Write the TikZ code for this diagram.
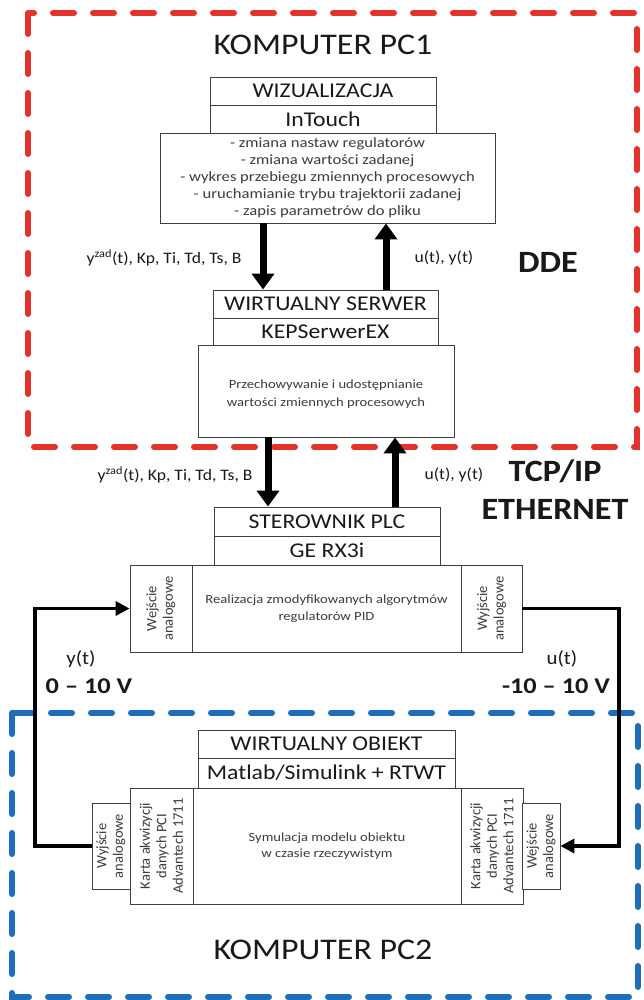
\documentclass[tikz,border=0pt]{standalone}
\usepackage{fontspec}
\setmainfont{Carlito}
\newfontfamily\wideA[FakeStretch=1.13]{Carlito}
\newfontfamily\wideB[FakeStretch=1.17]{Carlito}
\newfontfamily\wideC[FakeStretch=1.1]{Carlito}
\usetikzlibrary{arrows.meta}
\definecolor{pcred}{RGB}{228,50,45}
\definecolor{pcblue}{RGB}{30,110,185}
\definecolor{txt}{RGB}{25,25,25}
\definecolor{stxt}{RGB}{60,60,60}
\begin{document}
\begin{tikzpicture}[x=1pt,y=-1pt,
  box/.style={draw=black!75, line width=0.9pt, fill=white, inner sep=0pt, align=center, text=txt},
  titlebox/.style={box, font=\wideA\fontsize{21}{24}\selectfont},
  smalltext/.style={font=\wideB\fontsize{14.2}{17}\selectfont, text=stxt, align=center},
  midtext/.style={font=\wideB\fontsize{12.5}{16.5}\selectfont, text=stxt, align=center},
  rottext/.style={font=\fontsize{14.5}{16.5}\selectfont, text=stxt, align=center, rotate=90, inner sep=0pt},
  biglabel/.style={font=\wideA\fontsize{30}{34}\selectfont, text=txt},
  boldlabel/.style={font=\wideC\bfseries\fontsize{31}{36}\selectfont, text=txt},
  arrlabel/.style={font=\wideC\fontsize{16}{18}\selectfont, text=txt},
  siglabel/.style={font=\wideC\fontsize{19}{22}\selectfont, text=txt},
  voltlabel/.style={font=\wideB\bfseries\fontsize{22.5}{26}\selectfont, text=txt},
  bigarrow/.style={line width=7pt, -{Triangle[width=22pt,length=16pt]}},
  sig/.style={line width=3.5pt, -{Triangle[width=14pt,length=14pt]}},
  zone/.style={line width=6pt, line cap=round, dash pattern=on 21pt off 19pt},
]
\useasboundingbox (0,0) rectangle (643,1000);
\fill[white] (0,0) rectangle (643,1000);

% zones
\draw[zone, pcred] (28,13) rectangle (637,447);
\draw[zone, pcblue] (12,713) rectangle (638,997);

\node[biglabel] (pc1) at (323,45) {KOMPUTER PC1};
\node[biglabel] (pc2) at (323,950) {KOMPUTER PC2};

% PC1 boxes
\node[titlebox, minimum width=226, minimum height=28] (wiz) at (323,91) {WIZUALIZACJA};
\node[titlebox, minimum width=226, minimum height=28] (intouch) at (323,119) {InTouch};
\node[box, minimum width=335, minimum height=90, smalltext] (wizbody) at (327.5,178)
  {- zmiana nastaw regulatorów\\- zmiana wartości zadanej\\- wykres przebiegu zmiennych procesowych\\- uruchamianie trybu trajektorii zadanej\\- zapis parametrów do pliku};

\node[titlebox, minimum width=225, minimum height=28] (serw) at (325.5,304) {WIRTUALNY SERWER};
\node[titlebox, minimum width=225, minimum height=27] (kep) at (325.5,331.5) {KEPSerwerEX};
\node[box, minimum width=256, minimum height=92] (store) at (326,391) {};
\node[midtext, font=\wideB\fontsize{12.5}{17.5}\selectfont] (storelab) at (326,394)
  {Przechowywanie i udostępnianie\\wartości zmiennych procesowych};

% PLC
\node[titlebox, minimum width=226, minimum height=29] (plc) at (327,521.5) {STEROWNIK PLC};
\node[titlebox, minimum width=226, minimum height=29] (gerx) at (327,550.5) {GE RX3i};
\node[box, minimum width=62, minimum height=87] (plcin) at (161,608.5) {};
\node[box, minimum width=269, minimum height=87, midtext] (plcmid) at (326.5,608.5)
  {Realizacja zmodyfikowanych algorytmów\\regulatorów PID};
\node[box, minimum width=61, minimum height=87] (plcout) at (491.5,608.5) {};
\node[rottext] (plcinlab) at (plcin) {Wejście\\analogowe};
\node[rottext] (plcoutlab) at (plcout) {Wyjście\\analogowe};

% PC2
\node[titlebox, minimum width=257, minimum height=28] (obj) at (326.5,744) {WIRTUALNY OBIEKT};
\node[titlebox, minimum width=257, minimum height=30] (matlab) at (326.5,773) {Matlab/Simulink + RTWT};
\node[box, minimum width=38, minimum height=86] (simL) at (111,846) {};
\node[box, minimum width=63, minimum height=116] (kartaL) at (161.5,846) {};
\node[box, minimum width=268, minimum height=116, midtext] (sim) at (327,846)
  {Symulacja modelu obiektu\\w czasie rzeczywistym};
\node[box, minimum width=62, minimum height=116] (kartaR) at (492,846) {};
\node[box, minimum width=38, minimum height=86] (simR) at (541,846) {};
\node[rottext] (simLlab) at (simL) {Wyjście\\analogowe};
\node[rottext] (kartaLlab) at (kartaL) {Karta akwizycji\\danych PCI\\Advantech 1711};
\node[rottext] (kartaRlab) at (kartaR) {Karta akwizycji\\danych PCI\\Advantech 1711};
\node[rottext] (simRlab) at (simR) {Wejście\\analogowe};

% thick arrows
\coordinate (xa) at (263,0);
\coordinate (xb) at (386,0);
\coordinate (xc) at (268,0);
\coordinate (xd) at (395,0);
\draw[bigarrow] (xa |- wizbody.south) -- (xa |- serw.north);
\draw[bigarrow] (xb |- serw.north) -- (xb |- wizbody.south);
\draw[bigarrow] (xc |- store.south) -- (xc |- plc.north);
\draw[bigarrow] (xd |- plc.north) -- (xd |- store.south);

\node[arrlabel, anchor=east] (l1) at (245,258) {y\textsuperscript{zad}(t), Kp, Ti, Td, Ts, B};
\node[arrlabel, anchor=west] (l2) at (411,258) {u(t), y(t)};
\node[arrlabel, anchor=east] (l3) at (256,475) {y\textsuperscript{zad}(t), Kp, Ti, Td, Ts, B};
\node[arrlabel, anchor=west] (l4) at (421,475) {u(t), y(t)};

\node[boldlabel] (dde) at (548,262) {DDE};
\node[boldlabel] (tcp) at (555,471) {TCP/IP};
\node[boldlabel] (eth) at (555,509) {ETHERNET};

% signal lines
\coordinate (xl) at (35,0);
\coordinate (xr) at (619,0);
\draw[sig] (simL.west) -- (xl |- simL.west) -- (xl |- plcin.west) -- (plcin.west);
\draw[sig] (plcout.east) -- (xr |- plcout.east) -- (xr |- simR.east) -- (simR.east);

\node[siglabel] (yt) at (81,659) {y(t)};
\node[voltlabel] (v1) at (89,686) {0 – 10 V};
\node[siglabel] (ut) at (562,659) {u(t)};
\node[voltlabel] (v2) at (556,686) {-10 – 10 V};
\end{tikzpicture}
\end{document}
